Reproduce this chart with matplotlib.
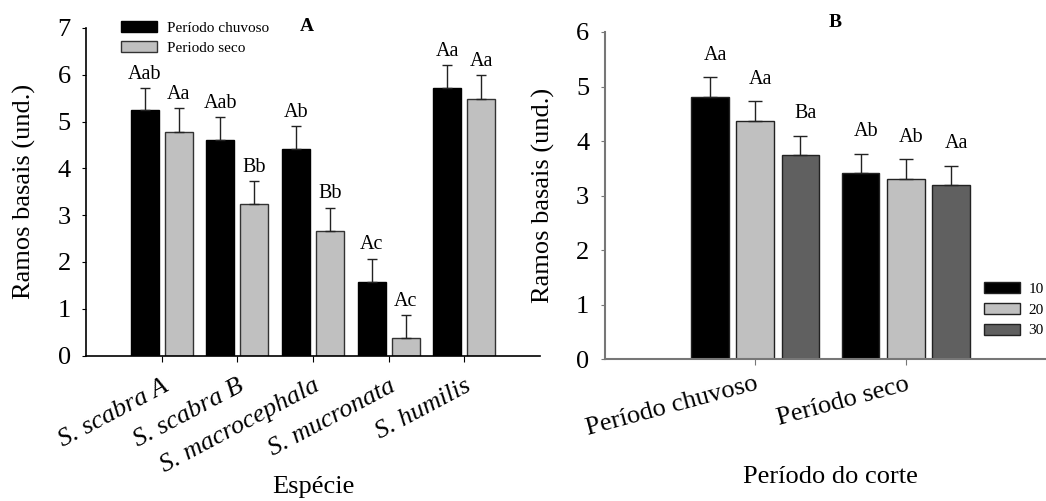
import matplotlib
matplotlib.use('Agg')
import matplotlib.pyplot as plt
from matplotlib.patches import Patch
import numpy as np

plt.rcParams['font.family'] = ['Liberation Serif', 'DejaVu Serif']

# panel A - species
species = ['S. scabra A', 'S. scabra B', 'S. macrocephala', 'S. mucronata', 'S. humilis']
chuvoso_mean = [5.25, 4.60, 4.41, 1.58, 5.72]
chuvoso_err = [0.47, 0.49, 0.49, 0.49, 0.49]
seco_mean = [4.78, 3.24, 2.67, 0.37, 5.49]
seco_err = [0.50, 0.49, 0.49, 0.49, 0.51]
chuvoso_letters = ['Aab', 'Aab', 'Ab', 'Ac', 'Aa']
seco_letters = ['Aa', 'Bb', 'Bb', 'Ac', 'Aa']

# panel B - cutting period
periods = ['Período chuvoso', 'Período seco']
groups = ['10', '20', '30']
means_b = [[4.81, 3.42], [4.37, 3.31], [3.74, 3.19]]
errs_b = [[0.36, 0.35], [0.36, 0.36], [0.36, 0.36]]
letters_b = [['Aa', 'Ab'], ['Aa', 'Ab'], ['Ba', 'Aa']]

W, H = 1046, 501
fig = plt.figure(figsize=(W / 100, H / 100), dpi=100)
axA = fig.add_axes([86 / W, (H - 355.5) / H, 454 / W, 327.5 / H])
axB = fig.add_axes([604.5 / W, (H - 359.3) / H, 452 / W, 327.3 / H])

FS = 19      # axis / tick text
FL = 14.5    # letters over bars
FLEG = 11

# ---------- A ----------
x = np.arange(1, len(species) + 1)
bw = 0.37
for off, mean, err, col, ec, lets in [(-0.225, chuvoso_mean, chuvoso_err, 'black', 'black', chuvoso_letters),
                                      (0.225, seco_mean, seco_err, '#c0c0c0', '#333333', seco_letters)]:
    xs = x + off
    axA.bar(xs, mean, bw, color=col, edgecolor=ec, lw=1, zorder=2)
    axA.errorbar(xs, mean, yerr=[np.zeros(len(mean)), err], fmt='none',
                 ecolor='#222222', elinewidth=1, capsize=3.3, capthick=1, zorder=3)
    for xi, m, e, t in zip(xs, mean, err, lets):
        axA.annotate(t, (xi, m + e), xytext=(0, 3), textcoords='offset points',
                     ha='center', va='bottom', fontsize=FL)

axA.set_xlim(0, 6)
axA.set_ylim(0, 7)
axA.set_xticks(x)
axA.set_xticklabels(species, rotation=28, ha='right', rotation_mode='anchor',
                    style='italic', fontsize=FS)
axA.set_yticks(range(0, 8))
axA.tick_params(axis='y', labelsize=FS, length=3, pad=8)
axA.tick_params(axis='x', length=4, pad=10)
for s in ['top', 'right']:
    axA.spines[s].set_visible(False)
for s in ['left', 'bottom']:
    axA.spines[s].set_linewidth(1.2)
axA.set_ylabel('Ramos basais (und.)', fontsize=FS)
axA.yaxis.set_label_coords(-0.110, 0.5)
axA.set_xlabel('Espécie', fontsize=FS, va='top')
axA.xaxis.set_label_coords(0.5, -0.368)
axA.text(0.486, 1.006, 'A', transform=axA.transAxes, ha='center', va='center',
         fontsize=14, fontweight='bold')
axA.legend(handles=[Patch(facecolor='black', edgecolor='black', label='Período chuvoso'),
                    Patch(facecolor='#c0c0c0', edgecolor='#333333', label='Periodo seco')],
           loc='upper left', bbox_to_anchor=(0.077, 1.021), frameon=False, fontsize=FLEG,
           borderpad=0, borderaxespad=0, handlelength=2.35, handleheight=0.72,
           handletextpad=0.65, labelspacing=0.42)

# ---------- B ----------
xb = np.arange(1, len(periods) + 1)
cols = ['black', '#c0c0c0', '#606060']
offs = [-0.3, 0, 0.3]
for off, mean, err, col, lets in zip(offs, means_b, errs_b, cols, letters_b):
    xs = xb + off
    axB.bar(xs, mean, 0.25, color=col, edgecolor='#222222', lw=1, zorder=2)
    axB.errorbar(xs, mean, yerr=[np.zeros(len(mean)), err], fmt='none',
                 ecolor='#222222', elinewidth=1, capsize=5, capthick=1, zorder=3)
    for xi, m, e, t in zip(xs, mean, err, lets):
        axB.annotate(t, (xi, m + e), xytext=(4, 9), textcoords='offset points',
                     ha='center', va='bottom', fontsize=FL)

axB.set_xlim(0, 3)
axB.set_ylim(0, 6)
axB.set_xticks(xb)
axB.set_xticklabels(periods, rotation=15, ha='right', rotation_mode='anchor', fontsize=FS)
axB.set_yticks(range(0, 7))
axB.tick_params(axis='y', labelsize=FS, length=3, pad=8, color='#777777')
axB.tick_params(axis='x', length=4, pad=6, color='#777777')
for s in ['top', 'right']:
    axB.spines[s].set_visible(False)
for s in ['left', 'bottom']:
    axB.spines[s].set_linewidth(1.5)
    axB.spines[s].set_color('#777777')
axB.set_ylabel('Ramos basais (und.)', fontsize=FS)
axB.yaxis.set_label_coords(-0.109, 0.5)
axB.set_xlabel('Período do corte', fontsize=FS, va='top')
axB.xaxis.set_label_coords(0.5, -0.326)
axB.text(0.51, 1.03, 'B', transform=axB.transAxes, ha='center', va='center',
         fontsize=14, fontweight='bold')
axB.legend(handles=[Patch(facecolor=c, edgecolor='#222222', label=g) for c, g in zip(cols, groups)],
           loc='upper left', bbox_to_anchor=(0.84, 0.235), frameon=False, fontsize=FLEG,
           borderpad=0, borderaxespad=0, handlelength=2.35, handleheight=0.72,
           handletextpad=0.55, labelspacing=0.45)

fig.savefig('out.png', dpi=100)
